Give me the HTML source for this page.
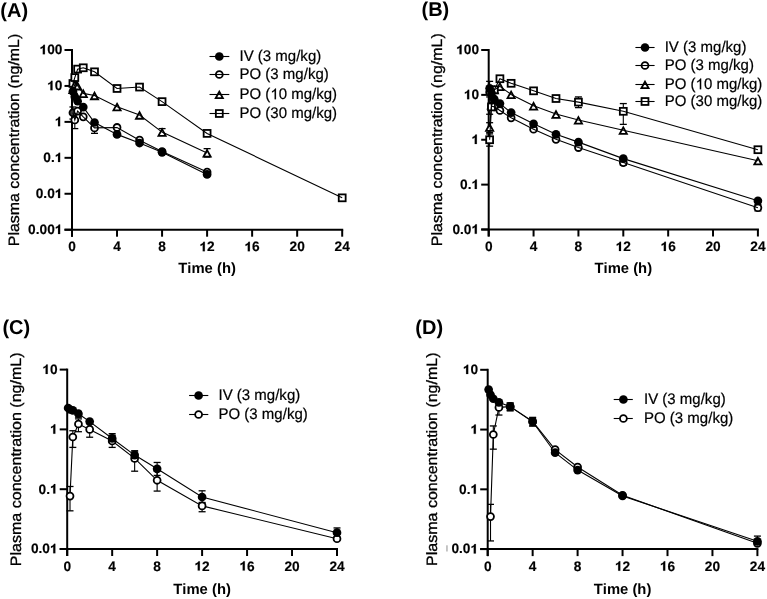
<!DOCTYPE html>
<html><head><meta charset="utf-8"><style>
html,body{margin:0;padding:0;background:#fff;}
body{width:767px;height:599px;overflow:hidden;filter:grayscale(100%);}
svg{display:block;}
text{font-family:"Liberation Sans", sans-serif;fill:#000;text-rendering:geometricPrecision;font-kerning:none;}
.tk{font-size:13.7px;font-weight:bold;stroke:#000;stroke-width:0.15px;}
.tt{font-size:14.8px;font-weight:bold;}
.yl{font-size:15px;stroke:#000;stroke-width:0.3px;}
.pl{font-size:20px;font-weight:bold;}
.lg{font-size:15.4px;stroke:#000;stroke-width:0.2px;}
</style></head><body>
<svg width="767" height="599" viewBox="0 0 767 599">
<rect width="767" height="599" fill="#fff"/>
<rect x="446.2" y="545.3" width="1.5" height="6.2" fill="#b4b4b4"/>
<g><line x1="72.0" y1="49.0" x2="72.0" y2="236.7" stroke="#000" stroke-width="2.0"/>
<line x1="64.5" y1="229.7" x2="343.2" y2="229.7" stroke="#000" stroke-width="2.0"/>
<line x1="64.5" y1="50.00" x2="72.0" y2="50.00" stroke="#000" stroke-width="2.0"/>
<text x="39.54" y="54.30" class="tk"> 00</text><path d="M800 0L800 1409L600 1409Q560 1290 456 1198Q352 1106 150 1050L150 810Q350 870 488 990L488 0Z" stroke="#000" stroke-width="0.15" vector-effect="non-scaling-stroke" transform="translate(39.54,54.30) scale(0.00669,-0.00669)"/>
<line x1="64.5" y1="85.94" x2="72.0" y2="85.94" stroke="#000" stroke-width="2.0"/>
<text x="47.16" y="90.24" class="tk"> 0</text><path d="M800 0L800 1409L600 1409Q560 1290 456 1198Q352 1106 150 1050L150 810Q350 870 488 990L488 0Z" stroke="#000" stroke-width="0.15" vector-effect="non-scaling-stroke" transform="translate(47.16,90.24) scale(0.00669,-0.00669)"/>
<line x1="64.5" y1="121.88" x2="72.0" y2="121.88" stroke="#000" stroke-width="2.0"/>
<text x="54.78" y="126.18" class="tk"> </text><path d="M800 0L800 1409L600 1409Q560 1290 456 1198Q352 1106 150 1050L150 810Q350 870 488 990L488 0Z" stroke="#000" stroke-width="0.15" vector-effect="non-scaling-stroke" transform="translate(54.78,126.18) scale(0.00669,-0.00669)"/>
<line x1="64.5" y1="157.82" x2="72.0" y2="157.82" stroke="#000" stroke-width="2.0"/>
<text x="43.36" y="162.12" class="tk">0. </text><path d="M800 0L800 1409L600 1409Q560 1290 456 1198Q352 1106 150 1050L150 810Q350 870 488 990L488 0Z" stroke="#000" stroke-width="0.15" vector-effect="non-scaling-stroke" transform="translate(54.78,162.12) scale(0.00669,-0.00669)"/>
<line x1="64.5" y1="193.76" x2="72.0" y2="193.76" stroke="#000" stroke-width="2.0"/>
<text x="35.74" y="198.06" class="tk">0.0 </text><path d="M800 0L800 1409L600 1409Q560 1290 456 1198Q352 1106 150 1050L150 810Q350 870 488 990L488 0Z" stroke="#000" stroke-width="0.15" vector-effect="non-scaling-stroke" transform="translate(54.78,198.06) scale(0.00669,-0.00669)"/>
<line x1="64.5" y1="229.70" x2="72.0" y2="229.70" stroke="#000" stroke-width="2.0"/>
<text x="28.12" y="234.00" class="tk">0.00 </text><path d="M800 0L800 1409L600 1409Q560 1290 456 1198Q352 1106 150 1050L150 810Q350 870 488 990L488 0Z" stroke="#000" stroke-width="0.15" vector-effect="non-scaling-stroke" transform="translate(54.78,234.00) scale(0.00669,-0.00669)"/>
<line x1="72.00" y1="229.7" x2="72.00" y2="236.7" stroke="#000" stroke-width="2.0"/>
<text x="68.19" y="251.30" class="tk">0</text>
<line x1="117.03" y1="229.7" x2="117.03" y2="236.7" stroke="#000" stroke-width="2.0"/>
<text x="113.22" y="251.30" class="tk">4</text>
<line x1="162.07" y1="229.7" x2="162.07" y2="236.7" stroke="#000" stroke-width="2.0"/>
<text x="158.26" y="251.30" class="tk">8</text>
<line x1="207.10" y1="229.7" x2="207.10" y2="236.7" stroke="#000" stroke-width="2.0"/>
<text x="199.48" y="251.30" class="tk"> 2</text><path d="M800 0L800 1409L600 1409Q560 1290 456 1198Q352 1106 150 1050L150 810Q350 870 488 990L488 0Z" stroke="#000" stroke-width="0.15" vector-effect="non-scaling-stroke" transform="translate(199.48,251.30) scale(0.00669,-0.00669)"/>
<line x1="252.13" y1="229.7" x2="252.13" y2="236.7" stroke="#000" stroke-width="2.0"/>
<text x="244.51" y="251.30" class="tk"> 6</text><path d="M800 0L800 1409L600 1409Q560 1290 456 1198Q352 1106 150 1050L150 810Q350 870 488 990L488 0Z" stroke="#000" stroke-width="0.15" vector-effect="non-scaling-stroke" transform="translate(244.51,251.30) scale(0.00669,-0.00669)"/>
<line x1="297.17" y1="229.7" x2="297.17" y2="236.7" stroke="#000" stroke-width="2.0"/>
<text x="289.55" y="251.30" class="tk">20</text>
<line x1="342.20" y1="229.7" x2="342.20" y2="236.7" stroke="#000" stroke-width="2.0"/>
<text x="334.58" y="251.30" class="tk">24</text>
<text x="207.10" y="273.40" class="tt" text-anchor="middle">Time (h)</text>
<text transform="translate(19.25,246.15) rotate(-90)" class="yl" textLength="212.4" lengthAdjust="spacingAndGlyphs">Plasma concentration (ng/mL)</text>
<text x="0.3" y="17.3" class="pl">(A)</text>
<line x1="162.07" y1="128.60" x2="162.07" y2="135.42" stroke="#000" stroke-width="1.1"/>
<line x1="158.57" y1="128.60" x2="165.57" y2="128.60" stroke="#000" stroke-width="1.3"/>
<line x1="158.57" y1="135.42" x2="165.57" y2="135.42" stroke="#000" stroke-width="1.3"/>
<line x1="207.10" y1="148.65" x2="207.10" y2="157.06" stroke="#000" stroke-width="1.1"/>
<line x1="203.60" y1="148.65" x2="210.60" y2="148.65" stroke="#000" stroke-width="1.3"/>
<line x1="203.60" y1="157.06" x2="210.60" y2="157.06" stroke="#000" stroke-width="1.3"/>
<line x1="74.81" y1="114.54" x2="74.81" y2="128.60" stroke="#000" stroke-width="1.1"/>
<line x1="71.31" y1="114.54" x2="78.31" y2="114.54" stroke="#000" stroke-width="1.3"/>
<line x1="71.31" y1="128.60" x2="78.31" y2="128.60" stroke="#000" stroke-width="1.3"/>
<line x1="94.52" y1="123.52" x2="94.52" y2="133.34" stroke="#000" stroke-width="1.1"/>
<line x1="91.02" y1="123.52" x2="98.02" y2="123.52" stroke="#000" stroke-width="1.3"/>
<line x1="91.02" y1="133.34" x2="98.02" y2="133.34" stroke="#000" stroke-width="1.3"/>
<line x1="72.93" y1="106.97" x2="72.93" y2="119.03" stroke="#000" stroke-width="1.1"/>
<line x1="69.43" y1="106.97" x2="76.43" y2="106.97" stroke="#000" stroke-width="1.3"/>
<line x1="69.43" y1="119.03" x2="76.43" y2="119.03" stroke="#000" stroke-width="1.3"/>
<rect x="69.48" y="80.04" width="6.90" height="6.90" fill="#fff" stroke="#000" stroke-width="1.8"/>
<rect x="71.36" y="74.12" width="6.90" height="6.90" fill="#fff" stroke="#000" stroke-width="1.8"/>
<rect x="74.18" y="65.66" width="6.90" height="6.90" fill="#fff" stroke="#000" stroke-width="1.8"/>
<rect x="79.81" y="64.33" width="6.90" height="6.90" fill="#fff" stroke="#000" stroke-width="1.8"/>
<rect x="91.07" y="68.38" width="6.90" height="6.90" fill="#fff" stroke="#000" stroke-width="1.8"/>
<rect x="113.58" y="85.03" width="6.90" height="6.90" fill="#fff" stroke="#000" stroke-width="1.8"/>
<rect x="136.10" y="83.62" width="6.90" height="6.90" fill="#fff" stroke="#000" stroke-width="1.8"/>
<rect x="158.62" y="98.18" width="6.90" height="6.90" fill="#fff" stroke="#000" stroke-width="1.8"/>
<rect x="203.65" y="129.95" width="6.90" height="6.90" fill="#fff" stroke="#000" stroke-width="1.8"/>
<rect x="338.75" y="194.39" width="6.90" height="6.90" fill="#fff" stroke="#000" stroke-width="1.8"/>
<polygon points="72.93,86.52 76.53,93.12 69.33,93.12" fill="#fff" stroke="#000" stroke-width="1.8" stroke-linejoin="miter"/>
<polygon points="74.81,81.55 78.41,88.15 71.21,88.15" fill="#fff" stroke="#000" stroke-width="1.8" stroke-linejoin="miter"/>
<polygon points="77.63,82.88 81.23,89.48 74.03,89.48" fill="#fff" stroke="#000" stroke-width="1.8" stroke-linejoin="miter"/>
<polygon points="83.26,90.50 86.86,97.10 79.66,97.10" fill="#fff" stroke="#000" stroke-width="1.8" stroke-linejoin="miter"/>
<polygon points="94.52,92.66 98.12,99.26 90.92,99.26" fill="#fff" stroke="#000" stroke-width="1.8" stroke-linejoin="miter"/>
<polygon points="117.03,103.77 120.63,110.37 113.43,110.37" fill="#fff" stroke="#000" stroke-width="1.8" stroke-linejoin="miter"/>
<polygon points="139.55,112.14 143.15,118.74 135.95,118.74" fill="#fff" stroke="#000" stroke-width="1.8" stroke-linejoin="miter"/>
<polygon points="162.07,129.19 165.67,135.79 158.47,135.79" fill="#fff" stroke="#000" stroke-width="1.8" stroke-linejoin="miter"/>
<polygon points="207.10,150.12 210.70,156.72 203.50,156.72" fill="#fff" stroke="#000" stroke-width="1.8" stroke-linejoin="miter"/>
<circle cx="72.93" cy="112.71" r="3.45" fill="#3a3a3a" stroke="#000" stroke-width="1.8"/>
<circle cx="74.81" cy="119.97" r="3.45" fill="#fff" stroke="#000" stroke-width="1.8"/>
<circle cx="77.63" cy="111.06" r="3.45" fill="#fff" stroke="#000" stroke-width="1.8"/>
<circle cx="83.26" cy="116.85" r="3.45" fill="#fff" stroke="#000" stroke-width="1.8"/>
<circle cx="94.52" cy="127.90" r="3.45" fill="#fff" stroke="#000" stroke-width="1.8"/>
<circle cx="117.03" cy="127.45" r="3.45" fill="#fff" stroke="#000" stroke-width="1.8"/>
<circle cx="139.55" cy="140.16" r="3.45" fill="#fff" stroke="#000" stroke-width="1.8"/>
<circle cx="162.07" cy="151.60" r="3.45" fill="#fff" stroke="#000" stroke-width="1.8"/>
<circle cx="207.10" cy="172.12" r="3.45" fill="#fff" stroke="#000" stroke-width="1.8"/>
<circle cx="72.93" cy="91.51" r="4.35" fill="#000"/>
<circle cx="74.81" cy="96.76" r="4.35" fill="#000"/>
<circle cx="77.63" cy="101.25" r="4.35" fill="#000"/>
<circle cx="83.26" cy="107.09" r="4.35" fill="#000"/>
<circle cx="94.52" cy="122.52" r="4.35" fill="#000"/>
<circle cx="117.03" cy="134.38" r="4.35" fill="#000"/>
<circle cx="139.55" cy="143.03" r="4.35" fill="#000"/>
<circle cx="162.07" cy="152.35" r="4.35" fill="#000"/>
<circle cx="207.10" cy="174.39" r="4.35" fill="#000"/>
<polyline points="72.93,83.49 74.81,77.57 77.63,69.11 83.26,67.78 94.52,71.83 117.03,88.48 139.55,87.07 162.07,101.63 207.10,133.40 342.20,197.84" fill="none" stroke="#000" stroke-width="1.1"/>
<polyline points="72.93,89.42 74.81,84.45 77.63,85.78 83.26,93.40 94.52,95.56 117.03,106.67 139.55,115.04 162.07,132.09 207.10,153.02" fill="none" stroke="#000" stroke-width="1.1"/>
<polyline points="72.93,112.71 74.81,119.97 77.63,111.06 83.26,116.85 94.52,127.90 117.03,127.45 139.55,140.16 162.07,151.60 207.10,172.12" fill="none" stroke="#000" stroke-width="1.1"/>
<polyline points="72.93,91.51 74.81,96.76 77.63,101.25 83.26,107.09 94.52,122.52 117.03,134.38 139.55,143.03 162.07,152.35 207.10,174.39" fill="none" stroke="#000" stroke-width="1.1"/>
<circle cx="219.30" cy="56.50" r="4.35" fill="#000"/>
<line x1="209.5" y1="56.5" x2="229.3" y2="56.5" stroke="#000" stroke-width="1.1"/>
<g transform="translate(239.5,61.20) scale(0.975,1)"><text x="0.00" y="0.00" class="lg">IV (3 mg/kg)</text></g>
<circle cx="219.30" cy="74.50" r="3.45" fill="#fff" stroke="#000" stroke-width="1.8"/>
<line x1="209.5" y1="74.5" x2="229.3" y2="74.5" stroke="#000" stroke-width="1.1"/>
<g transform="translate(239.5,79.20) scale(0.975,1)"><text x="0.00" y="0.00" class="lg">PO (3 mg/kg)</text></g>
<polygon points="219.30,91.60 222.90,98.20 215.70,98.20" fill="#fff" stroke="#000" stroke-width="1.8" stroke-linejoin="miter"/>
<line x1="209.5" y1="94.5" x2="229.3" y2="94.5" stroke="#000" stroke-width="1.1"/>
<g transform="translate(239.5,99.20) scale(0.975,1)"><text x="0.00" y="0.00" class="lg">PO ( 0 mg/kg)</text><path d="M763 0L583 0L583 1097Q518 1040 412 982Q306 924 222 895L222 1061Q373 1129 486 1225Q599 1321 646 1409L763 1409Z" stroke="#000" stroke-width="0.2" vector-effect="non-scaling-stroke" transform="translate(31.66,0.00) scale(0.00752,-0.00752)"/></g>
<rect x="215.85" y="110.05" width="6.90" height="6.90" fill="#fff" stroke="#000" stroke-width="1.8"/>
<line x1="209.5" y1="113.5" x2="229.3" y2="113.5" stroke="#000" stroke-width="1.1"/>
<g transform="translate(239.5,118.20) scale(0.975,1)"><text x="0.00" y="0.00" class="lg">PO (30 mg/kg)</text></g></g>
<g><line x1="488.7" y1="49.0" x2="488.7" y2="236.5" stroke="#000" stroke-width="2.0"/>
<line x1="481.2" y1="229.5" x2="758.9" y2="229.5" stroke="#000" stroke-width="2.0"/>
<line x1="481.2" y1="50.00" x2="488.7" y2="50.00" stroke="#000" stroke-width="2.0"/>
<text x="456.24" y="54.30" class="tk"> 00</text><path d="M800 0L800 1409L600 1409Q560 1290 456 1198Q352 1106 150 1050L150 810Q350 870 488 990L488 0Z" stroke="#000" stroke-width="0.15" vector-effect="non-scaling-stroke" transform="translate(456.24,54.30) scale(0.00669,-0.00669)"/>
<line x1="481.2" y1="94.88" x2="488.7" y2="94.88" stroke="#000" stroke-width="2.0"/>
<text x="463.86" y="99.17" class="tk"> 0</text><path d="M800 0L800 1409L600 1409Q560 1290 456 1198Q352 1106 150 1050L150 810Q350 870 488 990L488 0Z" stroke="#000" stroke-width="0.15" vector-effect="non-scaling-stroke" transform="translate(463.86,99.17) scale(0.00669,-0.00669)"/>
<line x1="481.2" y1="139.75" x2="488.7" y2="139.75" stroke="#000" stroke-width="2.0"/>
<text x="471.48" y="144.05" class="tk"> </text><path d="M800 0L800 1409L600 1409Q560 1290 456 1198Q352 1106 150 1050L150 810Q350 870 488 990L488 0Z" stroke="#000" stroke-width="0.15" vector-effect="non-scaling-stroke" transform="translate(471.48,144.05) scale(0.00669,-0.00669)"/>
<line x1="481.2" y1="184.62" x2="488.7" y2="184.62" stroke="#000" stroke-width="2.0"/>
<text x="460.06" y="188.93" class="tk">0. </text><path d="M800 0L800 1409L600 1409Q560 1290 456 1198Q352 1106 150 1050L150 810Q350 870 488 990L488 0Z" stroke="#000" stroke-width="0.15" vector-effect="non-scaling-stroke" transform="translate(471.48,188.93) scale(0.00669,-0.00669)"/>
<line x1="481.2" y1="229.50" x2="488.7" y2="229.50" stroke="#000" stroke-width="2.0"/>
<text x="452.44" y="233.80" class="tk">0.0 </text><path d="M800 0L800 1409L600 1409Q560 1290 456 1198Q352 1106 150 1050L150 810Q350 870 488 990L488 0Z" stroke="#000" stroke-width="0.15" vector-effect="non-scaling-stroke" transform="translate(471.48,233.80) scale(0.00669,-0.00669)"/>
<line x1="488.70" y1="229.5" x2="488.70" y2="236.5" stroke="#000" stroke-width="2.0"/>
<text x="484.89" y="251.10" class="tk">0</text>
<line x1="533.57" y1="229.5" x2="533.57" y2="236.5" stroke="#000" stroke-width="2.0"/>
<text x="529.76" y="251.10" class="tk">4</text>
<line x1="578.43" y1="229.5" x2="578.43" y2="236.5" stroke="#000" stroke-width="2.0"/>
<text x="574.62" y="251.10" class="tk">8</text>
<line x1="623.30" y1="229.5" x2="623.30" y2="236.5" stroke="#000" stroke-width="2.0"/>
<text x="615.68" y="251.10" class="tk"> 2</text><path d="M800 0L800 1409L600 1409Q560 1290 456 1198Q352 1106 150 1050L150 810Q350 870 488 990L488 0Z" stroke="#000" stroke-width="0.15" vector-effect="non-scaling-stroke" transform="translate(615.68,251.10) scale(0.00669,-0.00669)"/>
<line x1="668.17" y1="229.5" x2="668.17" y2="236.5" stroke="#000" stroke-width="2.0"/>
<text x="660.55" y="251.10" class="tk"> 6</text><path d="M800 0L800 1409L600 1409Q560 1290 456 1198Q352 1106 150 1050L150 810Q350 870 488 990L488 0Z" stroke="#000" stroke-width="0.15" vector-effect="non-scaling-stroke" transform="translate(660.55,251.10) scale(0.00669,-0.00669)"/>
<line x1="713.03" y1="229.5" x2="713.03" y2="236.5" stroke="#000" stroke-width="2.0"/>
<text x="705.41" y="251.10" class="tk">20</text>
<line x1="757.90" y1="229.5" x2="757.90" y2="236.5" stroke="#000" stroke-width="2.0"/>
<text x="750.28" y="251.10" class="tk">24</text>
<text x="623.30" y="273.20" class="tt" text-anchor="middle">Time (h)</text>
<text transform="translate(442.0,246.15) rotate(-90)" class="yl" textLength="212.9" lengthAdjust="spacingAndGlyphs">Plasma concentration (ng/mL)</text>
<text x="421.5" y="16.3" class="pl">(B)</text>
<line x1="489.63" y1="88.32" x2="489.63" y2="114.25" stroke="#000" stroke-width="1.1"/>
<line x1="486.13" y1="88.32" x2="493.13" y2="88.32" stroke="#000" stroke-width="1.3"/>
<line x1="486.13" y1="114.25" x2="493.13" y2="114.25" stroke="#000" stroke-width="1.3"/>
<line x1="757.90" y1="204.54" x2="757.90" y2="210.88" stroke="#000" stroke-width="1.1"/>
<line x1="754.40" y1="204.54" x2="761.40" y2="204.54" stroke="#000" stroke-width="1.3"/>
<line x1="754.40" y1="210.88" x2="761.40" y2="210.88" stroke="#000" stroke-width="1.3"/>
<line x1="623.30" y1="159.66" x2="623.30" y2="165.27" stroke="#000" stroke-width="1.1"/>
<line x1="619.80" y1="159.66" x2="626.80" y2="159.66" stroke="#000" stroke-width="1.3"/>
<line x1="619.80" y1="165.27" x2="626.80" y2="165.27" stroke="#000" stroke-width="1.3"/>
<line x1="489.63" y1="122.69" x2="489.63" y2="132.51" stroke="#000" stroke-width="1.1"/>
<line x1="486.13" y1="122.69" x2="493.13" y2="122.69" stroke="#000" stroke-width="1.3"/>
<line x1="486.13" y1="132.51" x2="493.13" y2="132.51" stroke="#000" stroke-width="1.3"/>
<line x1="489.63" y1="133.90" x2="489.63" y2="146.15" stroke="#000" stroke-width="1.1"/>
<line x1="486.13" y1="133.90" x2="493.13" y2="133.90" stroke="#000" stroke-width="1.3"/>
<line x1="486.13" y1="146.15" x2="493.13" y2="146.15" stroke="#000" stroke-width="1.3"/>
<line x1="578.43" y1="96.93" x2="578.43" y2="107.62" stroke="#000" stroke-width="1.1"/>
<line x1="574.93" y1="96.93" x2="581.93" y2="96.93" stroke="#000" stroke-width="1.3"/>
<line x1="574.93" y1="107.62" x2="581.93" y2="107.62" stroke="#000" stroke-width="1.3"/>
<line x1="623.30" y1="103.57" x2="623.30" y2="124.38" stroke="#000" stroke-width="1.1"/>
<line x1="619.80" y1="103.57" x2="626.80" y2="103.57" stroke="#000" stroke-width="1.3"/>
<line x1="619.80" y1="124.38" x2="626.80" y2="124.38" stroke="#000" stroke-width="1.3"/>
<line x1="489.63" y1="81.37" x2="489.63" y2="96.93" stroke="#000" stroke-width="1.1"/>
<line x1="486.13" y1="81.37" x2="493.13" y2="81.37" stroke="#000" stroke-width="1.3"/>
<line x1="486.13" y1="96.93" x2="493.13" y2="96.93" stroke="#000" stroke-width="1.3"/>
<circle cx="489.63" cy="92.15" r="3.45" fill="#fff" stroke="#000" stroke-width="1.8"/>
<circle cx="491.50" cy="106.18" r="3.45" fill="#fff" stroke="#000" stroke-width="1.8"/>
<circle cx="494.31" cy="106.88" r="3.45" fill="#fff" stroke="#000" stroke-width="1.8"/>
<circle cx="499.92" cy="110.44" r="3.45" fill="#fff" stroke="#000" stroke-width="1.8"/>
<circle cx="511.13" cy="117.83" r="3.45" fill="#fff" stroke="#000" stroke-width="1.8"/>
<circle cx="533.57" cy="129.18" r="3.45" fill="#fff" stroke="#000" stroke-width="1.8"/>
<circle cx="556.00" cy="139.36" r="3.45" fill="#fff" stroke="#000" stroke-width="1.8"/>
<circle cx="578.43" cy="147.55" r="3.45" fill="#fff" stroke="#000" stroke-width="1.8"/>
<circle cx="623.30" cy="162.58" r="3.45" fill="#fff" stroke="#000" stroke-width="1.8"/>
<circle cx="757.90" cy="207.70" r="3.45" fill="#fff" stroke="#000" stroke-width="1.8"/>
<polygon points="489.63,124.24 493.23,130.84 486.03,130.84" fill="#fff" stroke="#000" stroke-width="1.8" stroke-linejoin="miter"/>
<polygon points="491.50,101.93 495.10,108.53 487.90,108.53" fill="#fff" stroke="#000" stroke-width="1.8" stroke-linejoin="miter"/>
<polygon points="494.31,86.86 497.91,93.46 490.71,93.46" fill="#fff" stroke="#000" stroke-width="1.8" stroke-linejoin="miter"/>
<polygon points="499.92,83.43 503.52,90.03 496.32,90.03" fill="#fff" stroke="#000" stroke-width="1.8" stroke-linejoin="miter"/>
<polygon points="511.13,91.59 514.73,98.19 507.53,98.19" fill="#fff" stroke="#000" stroke-width="1.8" stroke-linejoin="miter"/>
<polygon points="533.57,102.93 537.17,109.53 529.97,109.53" fill="#fff" stroke="#000" stroke-width="1.8" stroke-linejoin="miter"/>
<polygon points="556.00,111.19 559.60,117.79 552.40,117.79" fill="#fff" stroke="#000" stroke-width="1.8" stroke-linejoin="miter"/>
<polygon points="578.43,117.06 582.03,123.66 574.83,123.66" fill="#fff" stroke="#000" stroke-width="1.8" stroke-linejoin="miter"/>
<polygon points="623.30,127.33 626.90,133.93 619.70,133.93" fill="#fff" stroke="#000" stroke-width="1.8" stroke-linejoin="miter"/>
<polygon points="757.90,157.87 761.50,164.47 754.30,164.47" fill="#fff" stroke="#000" stroke-width="1.8" stroke-linejoin="miter"/>
<rect x="486.18" y="136.30" width="6.90" height="6.90" fill="#fff" stroke="#000" stroke-width="1.8"/>
<rect x="488.05" y="103.43" width="6.90" height="6.90" fill="#fff" stroke="#000" stroke-width="1.8"/>
<rect x="490.86" y="86.31" width="6.90" height="6.90" fill="#fff" stroke="#000" stroke-width="1.8"/>
<rect x="496.47" y="75.28" width="6.90" height="6.90" fill="#fff" stroke="#000" stroke-width="1.8"/>
<rect x="507.68" y="79.86" width="6.90" height="6.90" fill="#fff" stroke="#000" stroke-width="1.8"/>
<rect x="530.12" y="87.39" width="6.90" height="6.90" fill="#fff" stroke="#000" stroke-width="1.8"/>
<rect x="552.55" y="95.06" width="6.90" height="6.90" fill="#fff" stroke="#000" stroke-width="1.8"/>
<rect x="574.98" y="98.66" width="6.90" height="6.90" fill="#fff" stroke="#000" stroke-width="1.8"/>
<rect x="619.85" y="107.87" width="6.90" height="6.90" fill="#fff" stroke="#000" stroke-width="1.8"/>
<rect x="754.45" y="146.26" width="6.90" height="6.90" fill="#fff" stroke="#000" stroke-width="1.8"/>
<circle cx="489.63" cy="88.32" r="4.35" fill="#000"/>
<circle cx="491.50" cy="93.02" r="4.35" fill="#000"/>
<circle cx="494.31" cy="99.22" r="4.35" fill="#000"/>
<circle cx="499.92" cy="103.57" r="4.35" fill="#000"/>
<circle cx="511.13" cy="112.59" r="4.35" fill="#000"/>
<circle cx="533.57" cy="123.86" r="4.35" fill="#000"/>
<circle cx="556.00" cy="134.34" r="4.35" fill="#000"/>
<circle cx="578.43" cy="142.13" r="4.35" fill="#000"/>
<circle cx="623.30" cy="158.61" r="4.35" fill="#000"/>
<circle cx="757.90" cy="200.85" r="4.35" fill="#000"/>
<polyline points="489.63,92.15 491.50,106.18 494.31,106.88 499.92,110.44 511.13,117.83 533.57,129.18 556.00,139.36 578.43,147.55 623.30,162.58 757.90,207.70" fill="none" stroke="#000" stroke-width="1.1"/>
<polyline points="489.63,127.14 491.50,104.83 494.31,89.76 499.92,86.33 511.13,94.49 533.57,105.83 556.00,114.09 578.43,119.96 623.30,130.23 757.90,160.77" fill="none" stroke="#000" stroke-width="1.1"/>
<polyline points="489.63,139.75 491.50,106.88 494.31,89.76 499.92,78.73 511.13,83.31 533.57,90.84 556.00,98.51 578.43,102.11 623.30,111.32 757.90,149.71" fill="none" stroke="#000" stroke-width="1.1"/>
<polyline points="489.63,88.32 491.50,93.02 494.31,99.22 499.92,103.57 511.13,112.59 533.57,123.86 556.00,134.34 578.43,142.13 623.30,158.61 757.90,200.85" fill="none" stroke="#000" stroke-width="1.1"/>
<circle cx="645.00" cy="47.50" r="4.35" fill="#000"/>
<line x1="635.4" y1="47.5" x2="654.6" y2="47.5" stroke="#000" stroke-width="1.1"/>
<g transform="translate(664.7,52.20) scale(0.975,1)"><text x="0.00" y="0.00" class="lg">IV (3 mg/kg)</text></g>
<circle cx="645.00" cy="65.50" r="3.45" fill="#fff" stroke="#000" stroke-width="1.8"/>
<line x1="635.4" y1="65.5" x2="654.6" y2="65.5" stroke="#000" stroke-width="1.1"/>
<g transform="translate(664.7,70.20) scale(0.975,1)"><text x="0.00" y="0.00" class="lg">PO (3 mg/kg)</text></g>
<polygon points="645.00,81.60 648.60,88.20 641.40,88.20" fill="#fff" stroke="#000" stroke-width="1.8" stroke-linejoin="miter"/>
<line x1="635.4" y1="84.5" x2="654.6" y2="84.5" stroke="#000" stroke-width="1.1"/>
<g transform="translate(664.7,89.20) scale(0.975,1)"><text x="0.00" y="0.00" class="lg">PO ( 0 mg/kg)</text><path d="M763 0L583 0L583 1097Q518 1040 412 982Q306 924 222 895L222 1061Q373 1129 486 1225Q599 1321 646 1409L763 1409Z" stroke="#000" stroke-width="0.2" vector-effect="non-scaling-stroke" transform="translate(31.66,0.00) scale(0.00752,-0.00752)"/></g>
<rect x="641.55" y="98.05" width="6.90" height="6.90" fill="#fff" stroke="#000" stroke-width="1.8"/>
<line x1="635.4" y1="101.5" x2="654.6" y2="101.5" stroke="#000" stroke-width="1.1"/>
<g transform="translate(664.7,106.20) scale(0.975,1)"><text x="0.00" y="0.00" class="lg">PO (30 mg/kg)</text></g></g>
<g><line x1="67.2" y1="368.6" x2="67.2" y2="556.0" stroke="#000" stroke-width="2.0"/>
<line x1="59.7" y1="549.0" x2="338.0" y2="549.0" stroke="#000" stroke-width="2.0"/>
<line x1="59.7" y1="369.60" x2="67.2" y2="369.60" stroke="#000" stroke-width="2.0"/>
<text x="42.36" y="373.90" class="tk"> 0</text><path d="M800 0L800 1409L600 1409Q560 1290 456 1198Q352 1106 150 1050L150 810Q350 870 488 990L488 0Z" stroke="#000" stroke-width="0.15" vector-effect="non-scaling-stroke" transform="translate(42.36,373.90) scale(0.00669,-0.00669)"/>
<line x1="59.7" y1="429.40" x2="67.2" y2="429.40" stroke="#000" stroke-width="2.0"/>
<text x="49.98" y="433.70" class="tk"> </text><path d="M800 0L800 1409L600 1409Q560 1290 456 1198Q352 1106 150 1050L150 810Q350 870 488 990L488 0Z" stroke="#000" stroke-width="0.15" vector-effect="non-scaling-stroke" transform="translate(49.98,433.70) scale(0.00669,-0.00669)"/>
<line x1="59.7" y1="489.20" x2="67.2" y2="489.20" stroke="#000" stroke-width="2.0"/>
<text x="38.56" y="493.50" class="tk">0. </text><path d="M800 0L800 1409L600 1409Q560 1290 456 1198Q352 1106 150 1050L150 810Q350 870 488 990L488 0Z" stroke="#000" stroke-width="0.15" vector-effect="non-scaling-stroke" transform="translate(49.98,493.50) scale(0.00669,-0.00669)"/>
<line x1="59.7" y1="549.00" x2="67.2" y2="549.00" stroke="#000" stroke-width="2.0"/>
<text x="30.94" y="553.30" class="tk">0.0 </text><path d="M800 0L800 1409L600 1409Q560 1290 456 1198Q352 1106 150 1050L150 810Q350 870 488 990L488 0Z" stroke="#000" stroke-width="0.15" vector-effect="non-scaling-stroke" transform="translate(49.98,553.30) scale(0.00669,-0.00669)"/>
<line x1="67.20" y1="549.0" x2="67.20" y2="556.0" stroke="#000" stroke-width="2.0"/>
<text x="63.39" y="570.60" class="tk">0</text>
<line x1="112.17" y1="549.0" x2="112.17" y2="556.0" stroke="#000" stroke-width="2.0"/>
<text x="108.36" y="570.60" class="tk">4</text>
<line x1="157.13" y1="549.0" x2="157.13" y2="556.0" stroke="#000" stroke-width="2.0"/>
<text x="153.32" y="570.60" class="tk">8</text>
<line x1="202.10" y1="549.0" x2="202.10" y2="556.0" stroke="#000" stroke-width="2.0"/>
<text x="194.48" y="570.60" class="tk"> 2</text><path d="M800 0L800 1409L600 1409Q560 1290 456 1198Q352 1106 150 1050L150 810Q350 870 488 990L488 0Z" stroke="#000" stroke-width="0.15" vector-effect="non-scaling-stroke" transform="translate(194.48,570.60) scale(0.00669,-0.00669)"/>
<line x1="247.07" y1="549.0" x2="247.07" y2="556.0" stroke="#000" stroke-width="2.0"/>
<text x="239.45" y="570.60" class="tk"> 6</text><path d="M800 0L800 1409L600 1409Q560 1290 456 1198Q352 1106 150 1050L150 810Q350 870 488 990L488 0Z" stroke="#000" stroke-width="0.15" vector-effect="non-scaling-stroke" transform="translate(239.45,570.60) scale(0.00669,-0.00669)"/>
<line x1="292.03" y1="549.0" x2="292.03" y2="556.0" stroke="#000" stroke-width="2.0"/>
<text x="284.41" y="570.60" class="tk">20</text>
<line x1="337.00" y1="549.0" x2="337.00" y2="556.0" stroke="#000" stroke-width="2.0"/>
<text x="329.38" y="570.60" class="tk">24</text>
<text x="202.10" y="593.50" class="tt" text-anchor="middle">Time (h)</text>
<text transform="translate(20.75,566.15) rotate(-90)" class="yl" textLength="213.7" lengthAdjust="spacingAndGlyphs">Plasma concentration (ng/mL)</text>
<text x="2.4" y="333.5" class="pl">(C)</text>
<line x1="70.01" y1="486.49" x2="70.01" y2="510.82" stroke="#000" stroke-width="1.1"/>
<line x1="66.51" y1="486.49" x2="73.51" y2="486.49" stroke="#000" stroke-width="1.3"/>
<line x1="66.51" y1="510.82" x2="73.51" y2="510.82" stroke="#000" stroke-width="1.3"/>
<line x1="72.82" y1="430.73" x2="72.82" y2="447.40" stroke="#000" stroke-width="1.1"/>
<line x1="69.32" y1="430.73" x2="76.32" y2="430.73" stroke="#000" stroke-width="1.3"/>
<line x1="69.32" y1="447.40" x2="76.32" y2="447.40" stroke="#000" stroke-width="1.3"/>
<line x1="78.44" y1="418.87" x2="78.44" y2="431.71" stroke="#000" stroke-width="1.1"/>
<line x1="74.94" y1="418.87" x2="81.94" y2="418.87" stroke="#000" stroke-width="1.3"/>
<line x1="74.94" y1="431.71" x2="81.94" y2="431.71" stroke="#000" stroke-width="1.3"/>
<line x1="89.68" y1="423.60" x2="89.68" y2="437.22" stroke="#000" stroke-width="1.1"/>
<line x1="86.18" y1="423.60" x2="93.18" y2="423.60" stroke="#000" stroke-width="1.3"/>
<line x1="86.18" y1="437.22" x2="93.18" y2="437.22" stroke="#000" stroke-width="1.3"/>
<line x1="112.17" y1="435.20" x2="112.17" y2="447.40" stroke="#000" stroke-width="1.1"/>
<line x1="108.67" y1="435.20" x2="115.67" y2="435.20" stroke="#000" stroke-width="1.3"/>
<line x1="108.67" y1="447.40" x2="115.67" y2="447.40" stroke="#000" stroke-width="1.3"/>
<line x1="134.65" y1="451.93" x2="134.65" y2="471.20" stroke="#000" stroke-width="1.1"/>
<line x1="131.15" y1="451.93" x2="138.15" y2="451.93" stroke="#000" stroke-width="1.3"/>
<line x1="131.15" y1="471.20" x2="138.15" y2="471.20" stroke="#000" stroke-width="1.3"/>
<line x1="157.13" y1="471.20" x2="157.13" y2="491.08" stroke="#000" stroke-width="1.1"/>
<line x1="153.63" y1="471.20" x2="160.63" y2="471.20" stroke="#000" stroke-width="1.3"/>
<line x1="153.63" y1="491.08" x2="160.63" y2="491.08" stroke="#000" stroke-width="1.3"/>
<line x1="202.10" y1="502.47" x2="202.10" y2="511.73" stroke="#000" stroke-width="1.1"/>
<line x1="198.60" y1="502.47" x2="205.60" y2="502.47" stroke="#000" stroke-width="1.3"/>
<line x1="198.60" y1="511.73" x2="205.60" y2="511.73" stroke="#000" stroke-width="1.3"/>
<line x1="78.44" y1="411.40" x2="78.44" y2="417.19" stroke="#000" stroke-width="1.1"/>
<line x1="74.94" y1="411.40" x2="81.94" y2="411.40" stroke="#000" stroke-width="1.3"/>
<line x1="74.94" y1="417.19" x2="81.94" y2="417.19" stroke="#000" stroke-width="1.3"/>
<line x1="112.17" y1="433.62" x2="112.17" y2="442.67" stroke="#000" stroke-width="1.1"/>
<line x1="108.67" y1="433.62" x2="115.67" y2="433.62" stroke="#000" stroke-width="1.3"/>
<line x1="108.67" y1="442.67" x2="115.67" y2="442.67" stroke="#000" stroke-width="1.3"/>
<line x1="134.65" y1="450.72" x2="134.65" y2="460.67" stroke="#000" stroke-width="1.1"/>
<line x1="131.15" y1="450.72" x2="138.15" y2="450.72" stroke="#000" stroke-width="1.3"/>
<line x1="131.15" y1="460.67" x2="138.15" y2="460.67" stroke="#000" stroke-width="1.3"/>
<line x1="157.13" y1="462.46" x2="157.13" y2="475.42" stroke="#000" stroke-width="1.1"/>
<line x1="153.63" y1="462.46" x2="160.63" y2="462.46" stroke="#000" stroke-width="1.3"/>
<line x1="153.63" y1="475.42" x2="160.63" y2="475.42" stroke="#000" stroke-width="1.3"/>
<line x1="202.10" y1="490.81" x2="202.10" y2="503.35" stroke="#000" stroke-width="1.1"/>
<line x1="198.60" y1="490.81" x2="205.60" y2="490.81" stroke="#000" stroke-width="1.3"/>
<line x1="198.60" y1="503.35" x2="205.60" y2="503.35" stroke="#000" stroke-width="1.3"/>
<line x1="337.00" y1="527.94" x2="337.00" y2="536.79" stroke="#000" stroke-width="1.1"/>
<line x1="333.50" y1="527.94" x2="340.50" y2="527.94" stroke="#000" stroke-width="1.3"/>
<line x1="333.50" y1="536.79" x2="340.50" y2="536.79" stroke="#000" stroke-width="1.3"/>
<polyline points="70.01,496.09 72.82,437.01 78.44,424.02 89.68,429.40 112.17,440.99 134.65,458.43 157.13,480.28 202.10,505.89 337.00,538.71" fill="none" stroke="#000" stroke-width="1.1"/>
<polyline points="68.13,408.00 70.01,409.52 72.82,410.38 78.44,413.71 89.68,421.61 112.17,438.44 134.65,455.08 157.13,468.84 202.10,497.02 337.00,532.67" fill="none" stroke="#000" stroke-width="1.1"/>
<circle cx="70.01" cy="496.09" r="3.45" fill="#fff" stroke="#000" stroke-width="1.8"/>
<circle cx="72.82" cy="437.01" r="3.45" fill="#fff" stroke="#000" stroke-width="1.8"/>
<circle cx="78.44" cy="424.02" r="3.45" fill="#fff" stroke="#000" stroke-width="1.8"/>
<circle cx="89.68" cy="429.40" r="3.45" fill="#fff" stroke="#000" stroke-width="1.8"/>
<circle cx="112.17" cy="440.99" r="3.45" fill="#fff" stroke="#000" stroke-width="1.8"/>
<circle cx="134.65" cy="458.43" r="3.45" fill="#fff" stroke="#000" stroke-width="1.8"/>
<circle cx="157.13" cy="480.28" r="3.45" fill="#fff" stroke="#000" stroke-width="1.8"/>
<circle cx="202.10" cy="505.89" r="3.45" fill="#fff" stroke="#000" stroke-width="1.8"/>
<circle cx="337.00" cy="538.71" r="3.45" fill="#fff" stroke="#000" stroke-width="1.8"/>
<circle cx="68.13" cy="408.00" r="4.35" fill="#000"/>
<circle cx="70.01" cy="409.52" r="4.35" fill="#000"/>
<circle cx="72.82" cy="410.38" r="4.35" fill="#000"/>
<circle cx="78.44" cy="413.71" r="4.35" fill="#000"/>
<circle cx="89.68" cy="421.61" r="4.35" fill="#000"/>
<circle cx="112.17" cy="438.44" r="4.35" fill="#000"/>
<circle cx="134.65" cy="455.08" r="4.35" fill="#000"/>
<circle cx="157.13" cy="468.84" r="4.35" fill="#000"/>
<circle cx="202.10" cy="497.02" r="4.35" fill="#000"/>
<circle cx="337.00" cy="532.67" r="4.35" fill="#000"/>
<line x1="189.1" y1="395.5" x2="208.3" y2="395.5" stroke="#000" stroke-width="1.1"/>
<circle cx="198.60" cy="395.50" r="4.35" fill="#000"/>
<g transform="translate(218.5,400.20) scale(0.975,1)"><text x="0.00" y="0.00" class="lg">IV (3 mg/kg)</text></g>
<line x1="189.1" y1="414.5" x2="208.3" y2="414.5" stroke="#000" stroke-width="1.1"/>
<circle cx="198.60" cy="414.50" r="3.45" fill="#fff" stroke="#000" stroke-width="1.8"/>
<g transform="translate(218.5,419.20) scale(0.975,1)"><text x="0.00" y="0.00" class="lg">PO (3 mg/kg)</text></g></g>
<g><line x1="487.7" y1="368.8" x2="487.7" y2="556.1" stroke="#000" stroke-width="2.0"/>
<line x1="480.2" y1="549.1" x2="758.4" y2="549.1" stroke="#000" stroke-width="2.0"/>
<line x1="480.2" y1="369.80" x2="487.7" y2="369.80" stroke="#000" stroke-width="2.0"/>
<text x="462.86" y="374.10" class="tk"> 0</text><path d="M800 0L800 1409L600 1409Q560 1290 456 1198Q352 1106 150 1050L150 810Q350 870 488 990L488 0Z" stroke="#000" stroke-width="0.15" vector-effect="non-scaling-stroke" transform="translate(462.86,374.10) scale(0.00669,-0.00669)"/>
<line x1="480.2" y1="429.57" x2="487.7" y2="429.57" stroke="#000" stroke-width="2.0"/>
<text x="470.48" y="433.87" class="tk"> </text><path d="M800 0L800 1409L600 1409Q560 1290 456 1198Q352 1106 150 1050L150 810Q350 870 488 990L488 0Z" stroke="#000" stroke-width="0.15" vector-effect="non-scaling-stroke" transform="translate(470.48,433.87) scale(0.00669,-0.00669)"/>
<line x1="480.2" y1="489.33" x2="487.7" y2="489.33" stroke="#000" stroke-width="2.0"/>
<text x="459.06" y="493.63" class="tk">0. </text><path d="M800 0L800 1409L600 1409Q560 1290 456 1198Q352 1106 150 1050L150 810Q350 870 488 990L488 0Z" stroke="#000" stroke-width="0.15" vector-effect="non-scaling-stroke" transform="translate(470.48,493.63) scale(0.00669,-0.00669)"/>
<line x1="480.2" y1="549.10" x2="487.7" y2="549.10" stroke="#000" stroke-width="2.0"/>
<text x="451.44" y="553.40" class="tk">0.0 </text><path d="M800 0L800 1409L600 1409Q560 1290 456 1198Q352 1106 150 1050L150 810Q350 870 488 990L488 0Z" stroke="#000" stroke-width="0.15" vector-effect="non-scaling-stroke" transform="translate(470.48,553.40) scale(0.00669,-0.00669)"/>
<line x1="487.70" y1="549.1" x2="487.70" y2="556.1" stroke="#000" stroke-width="2.0"/>
<text x="483.89" y="570.70" class="tk">0</text>
<line x1="532.65" y1="549.1" x2="532.65" y2="556.1" stroke="#000" stroke-width="2.0"/>
<text x="528.84" y="570.70" class="tk">4</text>
<line x1="577.60" y1="549.1" x2="577.60" y2="556.1" stroke="#000" stroke-width="2.0"/>
<text x="573.79" y="570.70" class="tk">8</text>
<line x1="622.55" y1="549.1" x2="622.55" y2="556.1" stroke="#000" stroke-width="2.0"/>
<text x="614.93" y="570.70" class="tk"> 2</text><path d="M800 0L800 1409L600 1409Q560 1290 456 1198Q352 1106 150 1050L150 810Q350 870 488 990L488 0Z" stroke="#000" stroke-width="0.15" vector-effect="non-scaling-stroke" transform="translate(614.93,570.70) scale(0.00669,-0.00669)"/>
<line x1="667.50" y1="549.1" x2="667.50" y2="556.1" stroke="#000" stroke-width="2.0"/>
<text x="659.88" y="570.70" class="tk"> 6</text><path d="M800 0L800 1409L600 1409Q560 1290 456 1198Q352 1106 150 1050L150 810Q350 870 488 990L488 0Z" stroke="#000" stroke-width="0.15" vector-effect="non-scaling-stroke" transform="translate(659.88,570.70) scale(0.00669,-0.00669)"/>
<line x1="712.45" y1="549.1" x2="712.45" y2="556.1" stroke="#000" stroke-width="2.0"/>
<text x="704.83" y="570.70" class="tk">20</text>
<line x1="757.40" y1="549.1" x2="757.40" y2="556.1" stroke="#000" stroke-width="2.0"/>
<text x="749.78" y="570.70" class="tk">24</text>
<text x="622.55" y="593.60" class="tt" text-anchor="middle">Time (h)</text>
<text transform="translate(436.75,565.9) rotate(-90)" class="yl" textLength="213.4" lengthAdjust="spacingAndGlyphs">Plasma concentration (ng/mL)</text>
<text x="415.3" y="334.0" class="pl">(D)</text>
<line x1="490.51" y1="504.38" x2="490.51" y2="540.93" stroke="#000" stroke-width="1.1"/>
<line x1="487.01" y1="504.38" x2="494.01" y2="504.38" stroke="#000" stroke-width="1.3"/>
<line x1="487.01" y1="540.93" x2="494.01" y2="540.93" stroke="#000" stroke-width="1.3"/>
<line x1="493.32" y1="425.94" x2="493.32" y2="449.16" stroke="#000" stroke-width="1.1"/>
<line x1="489.82" y1="425.94" x2="496.82" y2="425.94" stroke="#000" stroke-width="1.3"/>
<line x1="489.82" y1="449.16" x2="496.82" y2="449.16" stroke="#000" stroke-width="1.3"/>
<line x1="498.94" y1="402.84" x2="498.94" y2="415.04" stroke="#000" stroke-width="1.1"/>
<line x1="495.44" y1="402.84" x2="502.44" y2="402.84" stroke="#000" stroke-width="1.3"/>
<line x1="495.44" y1="415.04" x2="502.44" y2="415.04" stroke="#000" stroke-width="1.3"/>
<line x1="510.18" y1="402.84" x2="510.18" y2="410.93" stroke="#000" stroke-width="1.1"/>
<line x1="506.68" y1="402.84" x2="513.67" y2="402.84" stroke="#000" stroke-width="1.3"/>
<line x1="506.68" y1="410.93" x2="513.67" y2="410.93" stroke="#000" stroke-width="1.3"/>
<line x1="532.65" y1="417.37" x2="532.65" y2="425.94" stroke="#000" stroke-width="1.1"/>
<line x1="529.15" y1="417.37" x2="536.15" y2="417.37" stroke="#000" stroke-width="1.3"/>
<line x1="529.15" y1="425.94" x2="536.15" y2="425.94" stroke="#000" stroke-width="1.3"/>
<line x1="510.18" y1="403.31" x2="510.18" y2="410.31" stroke="#000" stroke-width="1.1"/>
<line x1="506.68" y1="403.31" x2="513.67" y2="403.31" stroke="#000" stroke-width="1.3"/>
<line x1="506.68" y1="410.31" x2="513.67" y2="410.31" stroke="#000" stroke-width="1.3"/>
<line x1="532.65" y1="418.19" x2="532.65" y2="425.94" stroke="#000" stroke-width="1.1"/>
<line x1="529.15" y1="418.19" x2="536.15" y2="418.19" stroke="#000" stroke-width="1.3"/>
<line x1="529.15" y1="425.94" x2="536.15" y2="425.94" stroke="#000" stroke-width="1.3"/>
<line x1="757.40" y1="536.10" x2="757.40" y2="543.31" stroke="#000" stroke-width="1.1"/>
<line x1="753.90" y1="536.10" x2="760.90" y2="536.10" stroke="#000" stroke-width="1.3"/>
<line x1="753.90" y1="543.31" x2="760.90" y2="543.31" stroke="#000" stroke-width="1.3"/>
<polyline points="490.51,516.58 493.32,434.50 498.94,407.39 510.18,406.63 532.65,421.40 555.12,449.61 577.60,467.05 622.55,495.29 757.40,543.31" fill="none" stroke="#000" stroke-width="1.1"/>
<polyline points="488.63,389.56 490.51,394.71 493.32,398.73 498.94,402.38 510.18,406.63 532.65,421.78 555.12,452.71 577.60,470.08 622.55,495.95 757.40,541.31" fill="none" stroke="#000" stroke-width="1.1"/>
<circle cx="490.51" cy="516.58" r="3.45" fill="#fff" stroke="#000" stroke-width="1.8"/>
<circle cx="493.32" cy="434.50" r="3.45" fill="#fff" stroke="#000" stroke-width="1.8"/>
<circle cx="498.94" cy="407.39" r="3.45" fill="#fff" stroke="#000" stroke-width="1.8"/>
<circle cx="510.18" cy="406.63" r="3.45" fill="#fff" stroke="#000" stroke-width="1.8"/>
<circle cx="532.65" cy="421.40" r="3.45" fill="#fff" stroke="#000" stroke-width="1.8"/>
<circle cx="555.12" cy="449.61" r="3.45" fill="#fff" stroke="#000" stroke-width="1.8"/>
<circle cx="577.60" cy="467.05" r="3.45" fill="#fff" stroke="#000" stroke-width="1.8"/>
<circle cx="622.55" cy="495.29" r="3.45" fill="#fff" stroke="#000" stroke-width="1.8"/>
<circle cx="757.40" cy="543.31" r="3.45" fill="#fff" stroke="#000" stroke-width="1.8"/>
<circle cx="488.63" cy="389.56" r="4.35" fill="#000"/>
<circle cx="490.51" cy="394.71" r="4.35" fill="#000"/>
<circle cx="493.32" cy="398.73" r="4.35" fill="#000"/>
<circle cx="498.94" cy="402.38" r="4.35" fill="#000"/>
<circle cx="510.18" cy="406.63" r="4.35" fill="#000"/>
<circle cx="532.65" cy="421.78" r="4.35" fill="#000"/>
<circle cx="555.12" cy="452.71" r="4.35" fill="#000"/>
<circle cx="577.60" cy="470.08" r="4.35" fill="#000"/>
<circle cx="622.55" cy="495.95" r="4.35" fill="#000"/>
<circle cx="757.40" cy="541.31" r="4.35" fill="#000"/>
<line x1="613.7" y1="399.5" x2="632.8" y2="399.5" stroke="#000" stroke-width="1.1"/>
<circle cx="623.40" cy="399.50" r="4.35" fill="#000"/>
<g transform="translate(644.0,404.20) scale(0.975,1)"><text x="0.00" y="0.00" class="lg">IV (3 mg/kg)</text></g>
<line x1="613.7" y1="418.5" x2="632.8" y2="418.5" stroke="#000" stroke-width="1.1"/>
<circle cx="623.40" cy="418.50" r="3.45" fill="#fff" stroke="#000" stroke-width="1.8"/>
<g transform="translate(644.0,423.20) scale(0.975,1)"><text x="0.00" y="0.00" class="lg">PO (3 mg/kg)</text></g></g>
</svg>
</body></html>
